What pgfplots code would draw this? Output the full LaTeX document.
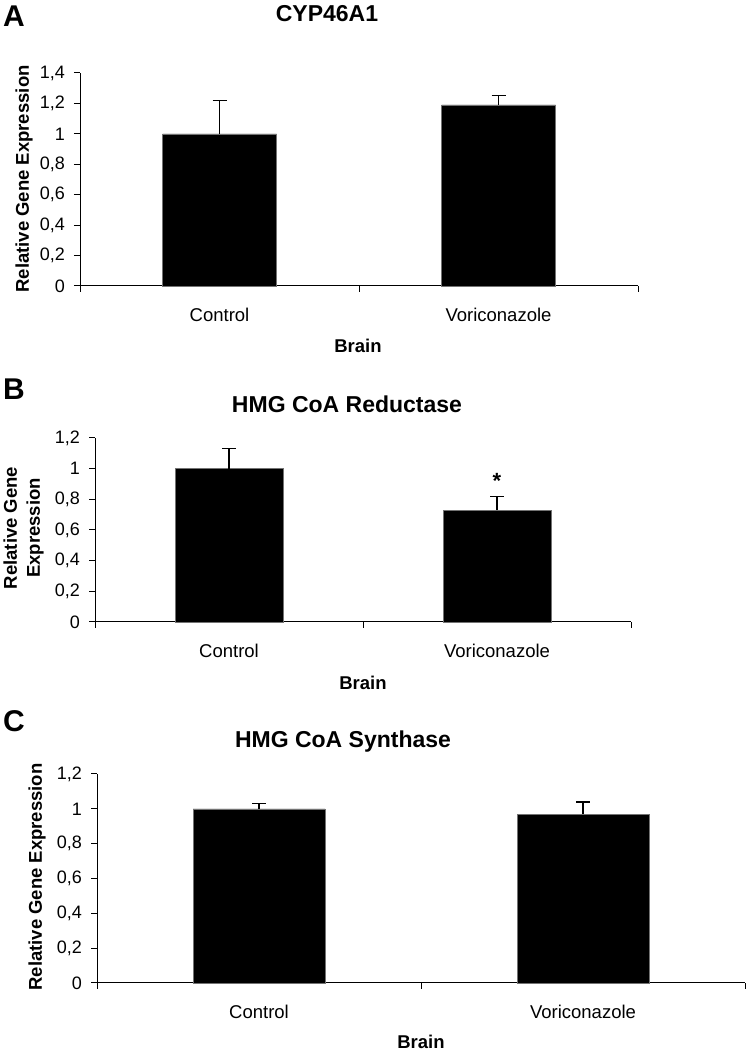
\documentclass[border=0pt]{standalone}
\usepackage{fontspec}
\setmainfont{Liberation Sans}
\usepackage{pgfplots}
\pgfplotsset{compat=1.18}
\pgfplotsset{
  panel/.style={
    scale only axis,
    anchor=south west,
    axis lines*=left,
    axis line style={line width=1pt, black},
    tick align=outside,
    major tick length=6pt,
    tick style={line width=1pt, black},
    xmin=0.5, xmax=2.5, ymin=0,
    xtick={0.5,1.5,2.5}, xticklabels={,,},
    extra x ticks={1,2},
    extra x tick labels={Control,Voriconazole},
    extra x tick style={major tick length=0pt},
    /pgf/number format/assume math mode=true,
    /pgf/number format/use comma,
    yticklabel style={font=\fontsize{18}{22}\selectfont, inner sep=0pt, xshift=-9pt},
    xticklabel style={font=\fontsize{18.5}{22}\selectfont, yshift=-19pt},
    clip=false,
  },
  barplot/.style={
    ybar, fill=black, draw=black!55, line width=0.6pt,
    error bars/y dir=plus, error bars/y explicit,
    error bars/error bar style={line width=1.3pt, black},
    error bars/error mark options={line width=1.3pt, mark size=7pt, black, rotate=90},
  },
}
\begin{document}
\begin{tikzpicture}
\useasboundingbox (0,0) rectangle (748pt,1052pt);
% Panel A
\begin{axis}[panel, at={(80pt,766pt)}, width=558pt, height=213pt,
  ymax=1.4, ytick={0,0.2,0.4,0.6,0.8,1,1.2,1.4}]
\addplot[barplot, bar width=114pt] coordinates {(1,1.00) +- (0,0.22) (2,1.19) +- (0,0.06)};
\end{axis}
% Panel B
\begin{axis}[panel, at={(95pt,430pt)}, width=536pt, height=184pt,
  ymax=1.2, ytick={0,0.2,0.4,0.6,0.8,1,1.2}]
\addplot[barplot, bar width=108pt] coordinates {(1,1.00) +- (0,0.13) (2,0.73) +- (0,0.09)};
\node[anchor=base, font=\fontsize{22}{24}\selectfont\bfseries] at (axis cs:2,0.87) {*};
\end{axis}
% Panel C
\begin{axis}[panel, at={(97pt,69pt)}, width=648pt, height=209pt,
  ymax=1.2, ytick={0,0.2,0.4,0.6,0.8,1,1.2}]
\addplot[barplot, bar width=132pt] coordinates {(1,1.00) +- (0,0.03) (2,0.97) +- (0,0.07)};
\end{axis}
% panel letters
\node[anchor=base west, inner sep=0pt, font=\fontsize{30}{32}\selectfont\bfseries] at (3pt,1025pt) {A};
\node[anchor=base west, inner sep=0pt, font=\fontsize{30}{32}\selectfont\bfseries] at (3pt,652pt) {B};
\node[anchor=base west, inner sep=0pt, font=\fontsize{30}{32}\selectfont\bfseries] at (3pt,320pt) {C};
% titles
\node[anchor=base, inner sep=0pt, font=\fontsize{23}{26}\selectfont\bfseries] at (327pt,1030pt) {CYP46A1};
\node[anchor=base, inner sep=0pt, font=\fontsize{23}{26}\selectfont\bfseries] at (347pt,639.5pt) {HMG CoA Reductase};
\node[anchor=base, inner sep=0pt, font=\fontsize{23}{26}\selectfont\bfseries] at (343pt,304pt) {HMG CoA Synthase};
% x labels
\node[anchor=base, inner sep=0pt, font=\fontsize{18.5}{22}\selectfont\bfseries] at (358pt,699pt) {Brain};
\node[anchor=base, inner sep=0pt, font=\fontsize{18.5}{22}\selectfont\bfseries] at (363pt,362pt) {Brain};
\node[anchor=base, inner sep=0pt, font=\fontsize{18.5}{22}\selectfont\bfseries] at (421pt,3pt) {Brain};
% y labels
\node[rotate=90, inner sep=0pt, font=\fontsize{18.5}{22}\selectfont\bfseries] at (24pt,873pt) {Relative Gene Expression};
\node[rotate=90, inner sep=0pt, align=center, font=\fontsize{18.5}{23}\selectfont\bfseries] at (23.5pt,524pt) {Relative Gene\\Expression};
\node[rotate=90, inner sep=0pt, font=\fontsize{18.5}{22}\selectfont\bfseries] at (37pt,175pt) {Relative Gene Expression};
\end{tikzpicture}
\end{document}
